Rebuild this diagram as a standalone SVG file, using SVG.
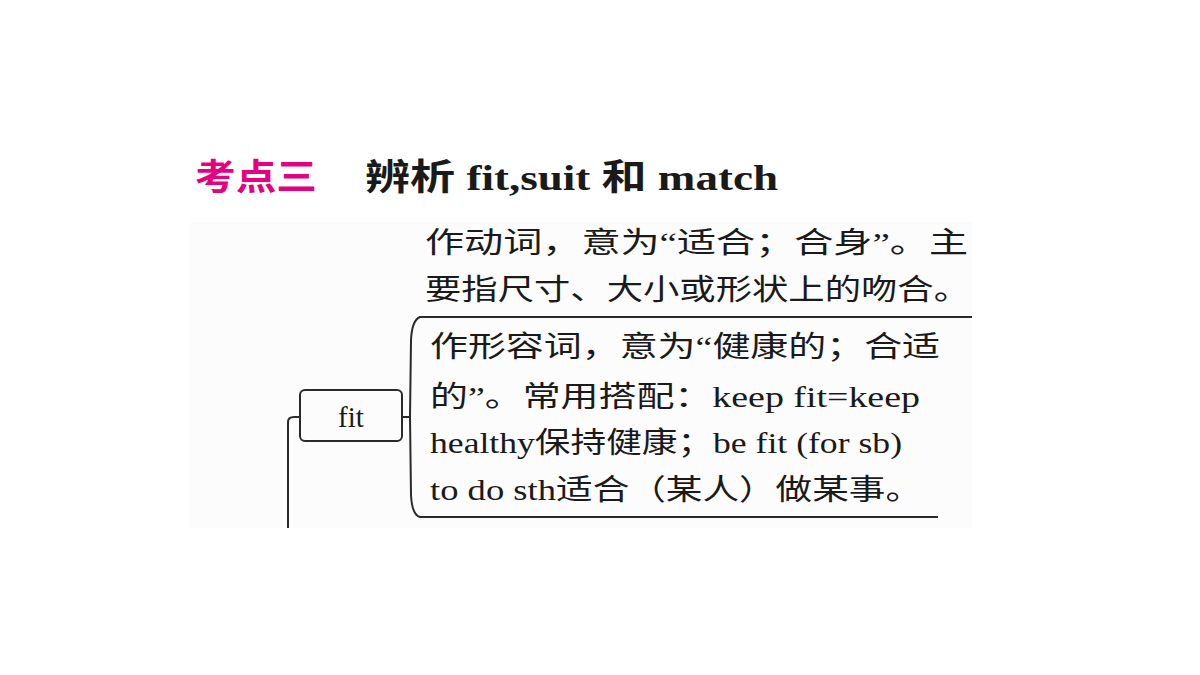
<svg xmlns="http://www.w3.org/2000/svg" width="1200" height="675" viewBox="0 0 1200 675">
<style>
.t{font-family:"Liberation Serif","Noto Sans CJK SC",serif;font-size:29px;fill:#1a1a1a}
.h{font-family:"Liberation Serif","Noto Sans CJK SC",serif;font-size:36px;font-weight:bold}
.ln{fill:none;stroke:#2a2a2a;stroke-width:2}
</style>
<rect width="1200" height="675" fill="#fff"/>
<rect x="190" y="222" width="782" height="306" fill="#fcfcfc"/>
<text class="h" x="195" y="190" fill="#e4007f" textLength="122" lengthAdjust="spacingAndGlyphs">考点三</text>
<text class="h" x="365" y="190" fill="#1a1a1a" textLength="413" lengthAdjust="spacingAndGlyphs">辨析 fit,suit 和 match</text>
<g id="connectors">
<path class="ln" d="M288,528 V422 Q288,417 294,417 H300"/>
<path class="ln" d="M402,417 H410"/>
<path class="ln" d="M972,317 H420 Q412,320 411,340 L410,417 L411,495 Q412,515 420,517 H938"/>
</g>
<g id="fit">
<rect class="ln" x="300" y="390" width="102" height="51" rx="5" stroke-width="2.5"/>
<text class="t" x="351" y="427" text-anchor="middle" font-size="31">fit</text>
</g>
<g id="verb">
<text class="t" x="425" y="253" textLength="543" lengthAdjust="spacingAndGlyphs">作动词，意为“适合；合身”。主</text>
<text class="t" x="425" y="300" textLength="545" lengthAdjust="spacingAndGlyphs">要指尺寸、大小或形状上的吻合。</text>
</g>
<g id="adj">
<text class="t" x="430" y="357" textLength="510" lengthAdjust="spacingAndGlyphs">作形容词，意为“健康的；合适</text>
<text class="t" x="430" y="407" textLength="490" lengthAdjust="spacingAndGlyphs">的”。常用搭配：keep fit=keep</text>
<text class="t" x="430" y="453" textLength="472" lengthAdjust="spacingAndGlyphs">healthy保持健康；be fit (for sb)</text>
<text class="t" x="430" y="500" textLength="492" lengthAdjust="spacingAndGlyphs">to do sth适合（某人）做某事。</text>
</g>
</svg>
